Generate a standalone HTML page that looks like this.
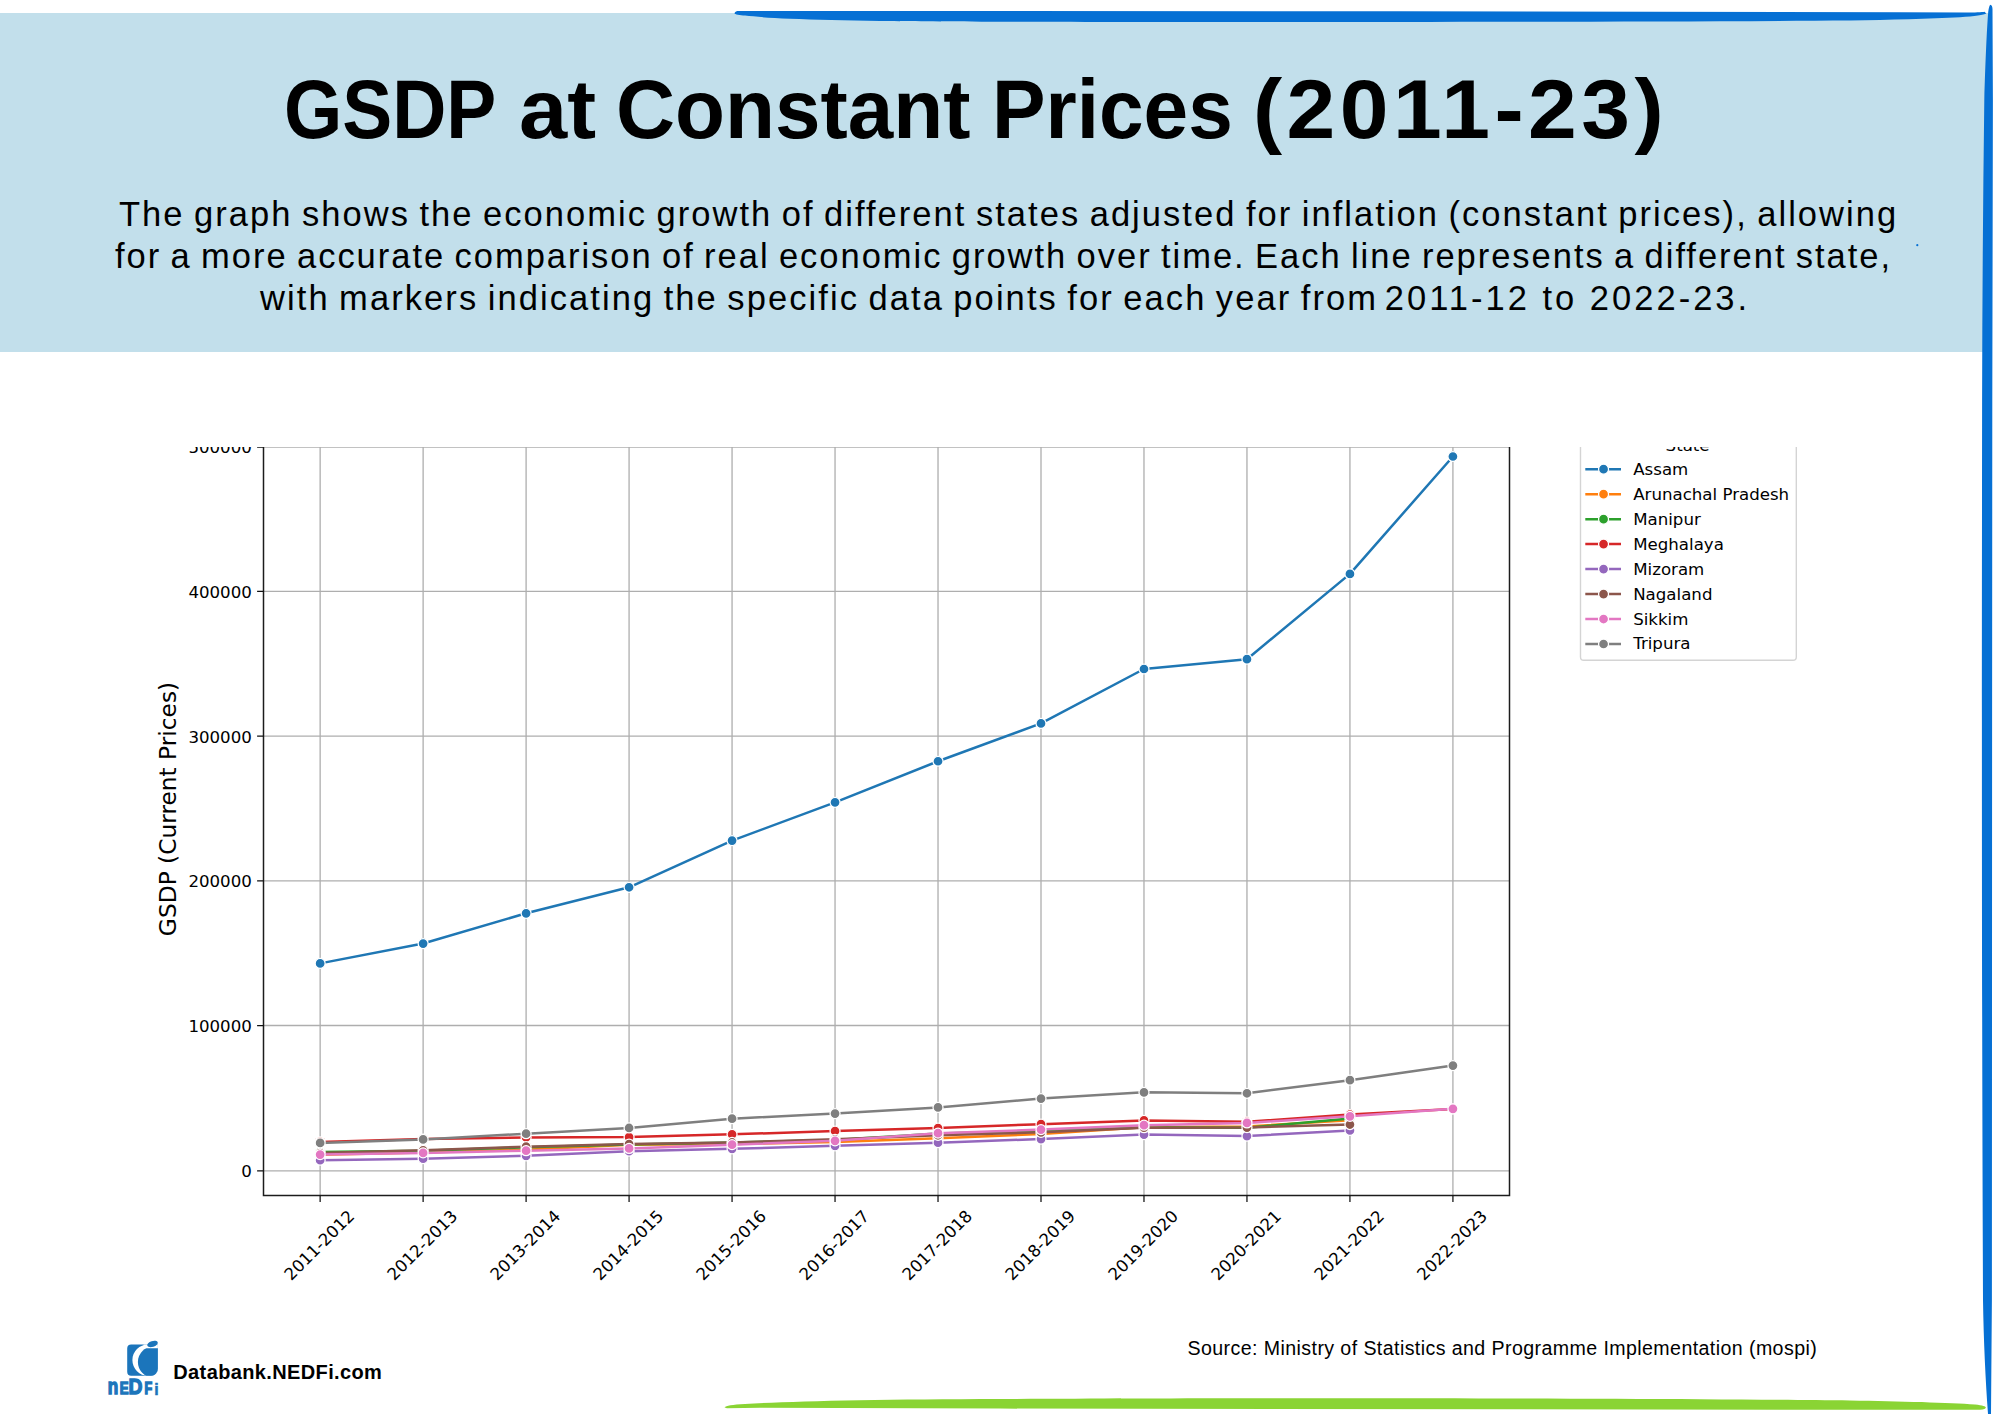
<!DOCTYPE html>
<html lang="en"><head><meta charset="utf-8"><title>GSDP at Constant Prices (2011-23)</title>
<style>
html,body{margin:0;padding:0;background:#fff}
body{width:2000px;height:1414px;position:relative;overflow:hidden;font-family:"Liberation Sans",sans-serif;color:#000}
.hdr{position:absolute;left:0;top:13px;width:1988px;height:338.6px;background:#c2dfeb}
.t{position:absolute;white-space:nowrap;line-height:1;margin:0}
.title{font-weight:bold;font-size:83.5px;left:0;top:67.81725px;width:2000px;height:83.5px}
.title span{position:absolute;top:0;transform-origin:0 50%;white-space:pre}
.d{font-size:34.5px;word-spacing:-2.2px}
.db{font-weight:bold;font-size:20px;letter-spacing:0.37px;left:173.3px;top:1362.1px}
.src{font-size:19.6px;letter-spacing:0.41px;left:1187.5px;top:1338.5px}
</style></head><body>
<div class="hdr"></div>
<svg width="2000" height="1414" viewBox="0 0 2000 1414" style="position:absolute;left:0;top:0">
<path fill="#0670d4" d="M734.5 13.2 C735 11.6 736.5 11 739 11 L1400 11.2 L1900 12.2 L1965 12.6 C1975 12.6 1982 12.2 1984.5 11.8 L1986.3 13.5 C1984 15 1975 16.2 1960 17.2 C1930 18.8 1890 19.8 1850 20.5 C1600 22.2 1200 22.2 1000 21.7 C950 21.6 900 21.2 880 21 C845 20.4 815 19.6 790 18.7 C770 17.8 755 16.8 745 15.6 C740 15 734.5 14.5 734.5 13.2 Z"/>
<path fill="#0670d4" d="M1990.5 4.8 C1991.6 5 1992.4 6.5 1992.5 9 L1992.9 100 L1992.3 400 L1992.1 720 L1991.9 1300 L1991 1414 L1988 1414 C1985.5 1380 1983.6 1340 1983 1300 C1982.2 1100 1981.9 900 1981.9 720 C1981.9 600 1982 500 1982.1 400 C1982.3 300 1983 200 1984.3 100 C1985.5 60 1986.8 30 1988.2 12 C1988.8 7.5 1989.6 5 1990.5 4.8 Z"/>
<path fill="#8ad434" d="M724.7 1407.4 C726 1405.6 732 1404.8 745 1404 C790 1401.2 880 1399.3 1000 1399 C1200 1398 1500 1398 1700 1399.2 C1760 1399.6 1810 1400 1850 1400.4 C1900 1401.2 1950 1402.6 1975 1404.4 C1983 1405.2 1986 1406.4 1985.9 1407.6 C1985.8 1408.8 1984 1409.6 1980 1409.8 L1850 1409.8 L1000 1408.6 L760 1407.8 L727 1408.2 C725.5 1408.2 724.4 1407.9 724.7 1407.4 Z"/>
<circle cx="1917.3" cy="245.2" r="1.1" fill="#0670d4"/>
</svg>
<h1 class="t title"><span style="left:284.00px;transform:scaleX(0.8971);letter-spacing:0.00px">GSDP </span><span style="left:518.65px;transform:scaleX(1.0382);letter-spacing:0.00px">at </span><span style="left:615.98px;transform:scaleX(0.9795);letter-spacing:0.00px">Constant </span><span style="left:991.89px;transform:scaleX(0.9606);letter-spacing:0.00px">Prices </span><span style="left:1252.62px;transform:scaleX(1.0500);letter-spacing:4.20px">(2011-23)</span></h1>
<p class="t d" style="left:119px;top:196.6px;letter-spacing:2.048px">The graph shows the economic growth of different states adjusted for inflation (constant prices), allowing</p>
<p class="t d" style="left:115px;top:239.3px;letter-spacing:1.980px">for a more accurate comparison of real economic growth over time. Each line represents a different state,</p>
<p class="t d" style="left:0;top:281.2px;width:2000px;height:34.5px"><span style="position:absolute;left:260.00px;letter-spacing:2.076px">with markers indicating the specific data points for each year from </span><span style="position:absolute;left:1384.78px;letter-spacing:3.009px;word-spacing:0">2011-12 to 2022-23.</span></p>
<svg class="chart" width="2000" height="1414" viewBox="0 0 2000 1414" style="position:absolute;left:0;top:0">
<defs><clipPath id="crop"><rect x="0" y="447.0" width="2000" height="967.0"/></clipPath><clipPath id="axclip"><rect x="263.5" y="447.0" width="1246.0" height="748.4000000000001"/></clipPath></defs>
<g clip-path="url(#crop)" font-family="'DejaVu Sans', 'Liberation Sans', sans-serif" fill="#000">
<path d="M320.14 442.0V1195.4M423.12 442.0V1195.4M526.10 442.0V1195.4M629.08 442.0V1195.4M732.06 442.0V1195.4M835.04 442.0V1195.4M938.02 442.0V1195.4M1041.00 442.0V1195.4M1143.98 442.0V1195.4M1246.96 442.0V1195.4M1349.94 442.0V1195.4M1452.92 442.0V1195.4M263.5 1170.88H1509.5M263.5 1025.50H1509.5M263.5 880.97H1509.5M263.5 736.20H1509.5M263.5 591.45H1509.5M263.5 447.00H1509.5" stroke="#aeaeae" stroke-width="1.3" fill="none"/>
<g clip-path="url(#axclip)">
<polyline points="320.14,963.39 423.12,943.56 526.10,913.32 629.08,887.28 732.06,840.60 835.04,802.33 938.02,761.24 1041.00,723.44 1143.98,668.99 1246.96,659.21 1349.94,573.91 1452.92,456.50" fill="none" stroke="#1f77b4" stroke-width="2.50" stroke-linejoin="round" stroke-linecap="butt"/>
<circle cx="320.14" cy="963.39" r="4.99" fill="#1f77b4" stroke="#fff" stroke-width="1.25"/>
<circle cx="423.12" cy="943.56" r="4.99" fill="#1f77b4" stroke="#fff" stroke-width="1.25"/>
<circle cx="526.10" cy="913.32" r="4.99" fill="#1f77b4" stroke="#fff" stroke-width="1.25"/>
<circle cx="629.08" cy="887.28" r="4.99" fill="#1f77b4" stroke="#fff" stroke-width="1.25"/>
<circle cx="732.06" cy="840.60" r="4.99" fill="#1f77b4" stroke="#fff" stroke-width="1.25"/>
<circle cx="835.04" cy="802.33" r="4.99" fill="#1f77b4" stroke="#fff" stroke-width="1.25"/>
<circle cx="938.02" cy="761.24" r="4.99" fill="#1f77b4" stroke="#fff" stroke-width="1.25"/>
<circle cx="1041.00" cy="723.44" r="4.99" fill="#1f77b4" stroke="#fff" stroke-width="1.25"/>
<circle cx="1143.98" cy="668.99" r="4.99" fill="#1f77b4" stroke="#fff" stroke-width="1.25"/>
<circle cx="1246.96" cy="659.21" r="4.99" fill="#1f77b4" stroke="#fff" stroke-width="1.25"/>
<circle cx="1349.94" cy="573.91" r="4.99" fill="#1f77b4" stroke="#fff" stroke-width="1.25"/>
<circle cx="1452.92" cy="456.50" r="4.99" fill="#1f77b4" stroke="#fff" stroke-width="1.25"/>
<polyline points="320.14,1154.73 423.12,1152.58 526.10,1149.63 629.08,1144.74 732.06,1143.94 835.04,1142.01 938.02,1138.20 1041.00,1134.06 1143.98,1127.27 1246.96,1126.54 1349.94,1120.20" fill="none" stroke="#ff7f0e" stroke-width="2.50" stroke-linejoin="round" stroke-linecap="butt"/>
<circle cx="320.14" cy="1154.73" r="4.99" fill="#ff7f0e" stroke="#fff" stroke-width="1.25"/>
<circle cx="423.12" cy="1152.58" r="4.99" fill="#ff7f0e" stroke="#fff" stroke-width="1.25"/>
<circle cx="526.10" cy="1149.63" r="4.99" fill="#ff7f0e" stroke="#fff" stroke-width="1.25"/>
<circle cx="629.08" cy="1144.74" r="4.99" fill="#ff7f0e" stroke="#fff" stroke-width="1.25"/>
<circle cx="732.06" cy="1143.94" r="4.99" fill="#ff7f0e" stroke="#fff" stroke-width="1.25"/>
<circle cx="835.04" cy="1142.01" r="4.99" fill="#ff7f0e" stroke="#fff" stroke-width="1.25"/>
<circle cx="938.02" cy="1138.20" r="4.99" fill="#ff7f0e" stroke="#fff" stroke-width="1.25"/>
<circle cx="1041.00" cy="1134.06" r="4.99" fill="#ff7f0e" stroke="#fff" stroke-width="1.25"/>
<circle cx="1143.98" cy="1127.27" r="4.99" fill="#ff7f0e" stroke="#fff" stroke-width="1.25"/>
<circle cx="1246.96" cy="1126.54" r="4.99" fill="#ff7f0e" stroke="#fff" stroke-width="1.25"/>
<circle cx="1349.94" cy="1120.20" r="4.99" fill="#ff7f0e" stroke="#fff" stroke-width="1.25"/>
<polyline points="320.14,1152.05 423.12,1150.85 526.10,1147.31 629.08,1144.49 732.06,1142.46 835.04,1139.91 938.02,1133.40 1041.00,1131.08 1143.98,1127.46 1246.96,1127.85 1349.94,1118.61" fill="none" stroke="#2ca02c" stroke-width="2.50" stroke-linejoin="round" stroke-linecap="butt"/>
<circle cx="320.14" cy="1152.05" r="4.99" fill="#2ca02c" stroke="#fff" stroke-width="1.25"/>
<circle cx="423.12" cy="1150.85" r="4.99" fill="#2ca02c" stroke="#fff" stroke-width="1.25"/>
<circle cx="526.10" cy="1147.31" r="4.99" fill="#2ca02c" stroke="#fff" stroke-width="1.25"/>
<circle cx="629.08" cy="1144.49" r="4.99" fill="#2ca02c" stroke="#fff" stroke-width="1.25"/>
<circle cx="732.06" cy="1142.46" r="4.99" fill="#2ca02c" stroke="#fff" stroke-width="1.25"/>
<circle cx="835.04" cy="1139.91" r="4.99" fill="#2ca02c" stroke="#fff" stroke-width="1.25"/>
<circle cx="938.02" cy="1133.40" r="4.99" fill="#2ca02c" stroke="#fff" stroke-width="1.25"/>
<circle cx="1041.00" cy="1131.08" r="4.99" fill="#2ca02c" stroke="#fff" stroke-width="1.25"/>
<circle cx="1143.98" cy="1127.46" r="4.99" fill="#2ca02c" stroke="#fff" stroke-width="1.25"/>
<circle cx="1246.96" cy="1127.85" r="4.99" fill="#2ca02c" stroke="#fff" stroke-width="1.25"/>
<circle cx="1349.94" cy="1118.61" r="4.99" fill="#2ca02c" stroke="#fff" stroke-width="1.25"/>
<polyline points="320.14,1141.90 423.12,1139.07 526.10,1137.53 629.08,1137.10 732.06,1134.37 835.04,1131.01 938.02,1128.01 1041.00,1124.15 1143.98,1120.39 1246.96,1121.83 1349.94,1114.58 1452.92,1108.91" fill="none" stroke="#d62728" stroke-width="2.50" stroke-linejoin="round" stroke-linecap="butt"/>
<circle cx="320.14" cy="1141.90" r="4.99" fill="#d62728" stroke="#fff" stroke-width="1.25"/>
<circle cx="423.12" cy="1139.07" r="4.99" fill="#d62728" stroke="#fff" stroke-width="1.25"/>
<circle cx="526.10" cy="1137.53" r="4.99" fill="#d62728" stroke="#fff" stroke-width="1.25"/>
<circle cx="629.08" cy="1137.10" r="4.99" fill="#d62728" stroke="#fff" stroke-width="1.25"/>
<circle cx="732.06" cy="1134.37" r="4.99" fill="#d62728" stroke="#fff" stroke-width="1.25"/>
<circle cx="835.04" cy="1131.01" r="4.99" fill="#d62728" stroke="#fff" stroke-width="1.25"/>
<circle cx="938.02" cy="1128.01" r="4.99" fill="#d62728" stroke="#fff" stroke-width="1.25"/>
<circle cx="1041.00" cy="1124.15" r="4.99" fill="#d62728" stroke="#fff" stroke-width="1.25"/>
<circle cx="1143.98" cy="1120.39" r="4.99" fill="#d62728" stroke="#fff" stroke-width="1.25"/>
<circle cx="1246.96" cy="1121.83" r="4.99" fill="#d62728" stroke="#fff" stroke-width="1.25"/>
<circle cx="1349.94" cy="1114.58" r="4.99" fill="#d62728" stroke="#fff" stroke-width="1.25"/>
<circle cx="1452.92" cy="1108.91" r="4.99" fill="#d62728" stroke="#fff" stroke-width="1.25"/>
<polyline points="320.14,1160.24 423.12,1158.64 526.10,1155.84 629.08,1151.18 732.06,1148.82 835.04,1145.85 938.02,1142.67 1041.00,1139.06 1143.98,1134.57 1246.96,1136.09 1349.94,1130.45" fill="none" stroke="#9467bd" stroke-width="2.50" stroke-linejoin="round" stroke-linecap="butt"/>
<circle cx="320.14" cy="1160.24" r="4.99" fill="#9467bd" stroke="#fff" stroke-width="1.25"/>
<circle cx="423.12" cy="1158.64" r="4.99" fill="#9467bd" stroke="#fff" stroke-width="1.25"/>
<circle cx="526.10" cy="1155.84" r="4.99" fill="#9467bd" stroke="#fff" stroke-width="1.25"/>
<circle cx="629.08" cy="1151.18" r="4.99" fill="#9467bd" stroke="#fff" stroke-width="1.25"/>
<circle cx="732.06" cy="1148.82" r="4.99" fill="#9467bd" stroke="#fff" stroke-width="1.25"/>
<circle cx="835.04" cy="1145.85" r="4.99" fill="#9467bd" stroke="#fff" stroke-width="1.25"/>
<circle cx="938.02" cy="1142.67" r="4.99" fill="#9467bd" stroke="#fff" stroke-width="1.25"/>
<circle cx="1041.00" cy="1139.06" r="4.99" fill="#9467bd" stroke="#fff" stroke-width="1.25"/>
<circle cx="1143.98" cy="1134.57" r="4.99" fill="#9467bd" stroke="#fff" stroke-width="1.25"/>
<circle cx="1246.96" cy="1136.09" r="4.99" fill="#9467bd" stroke="#fff" stroke-width="1.25"/>
<circle cx="1349.94" cy="1130.45" r="4.99" fill="#9467bd" stroke="#fff" stroke-width="1.25"/>
<polyline points="320.14,1153.11 423.12,1150.30 526.10,1146.69 629.08,1144.10 732.06,1142.47 835.04,1139.29 938.02,1135.28 1041.00,1132.33 1143.98,1127.71 1246.96,1127.54 1349.94,1124.53" fill="none" stroke="#8c564b" stroke-width="2.50" stroke-linejoin="round" stroke-linecap="butt"/>
<circle cx="320.14" cy="1153.11" r="4.99" fill="#8c564b" stroke="#fff" stroke-width="1.25"/>
<circle cx="423.12" cy="1150.30" r="4.99" fill="#8c564b" stroke="#fff" stroke-width="1.25"/>
<circle cx="526.10" cy="1146.69" r="4.99" fill="#8c564b" stroke="#fff" stroke-width="1.25"/>
<circle cx="629.08" cy="1144.10" r="4.99" fill="#8c564b" stroke="#fff" stroke-width="1.25"/>
<circle cx="732.06" cy="1142.47" r="4.99" fill="#8c564b" stroke="#fff" stroke-width="1.25"/>
<circle cx="835.04" cy="1139.29" r="4.99" fill="#8c564b" stroke="#fff" stroke-width="1.25"/>
<circle cx="938.02" cy="1135.28" r="4.99" fill="#8c564b" stroke="#fff" stroke-width="1.25"/>
<circle cx="1041.00" cy="1132.33" r="4.99" fill="#8c564b" stroke="#fff" stroke-width="1.25"/>
<circle cx="1143.98" cy="1127.71" r="4.99" fill="#8c564b" stroke="#fff" stroke-width="1.25"/>
<circle cx="1246.96" cy="1127.54" r="4.99" fill="#8c564b" stroke="#fff" stroke-width="1.25"/>
<circle cx="1349.94" cy="1124.53" r="4.99" fill="#8c564b" stroke="#fff" stroke-width="1.25"/>
<polyline points="320.14,1154.58 423.12,1152.88 526.10,1150.67 629.08,1148.44 732.06,1144.63 835.04,1140.79 938.02,1133.14 1041.00,1129.62 1143.98,1125.21 1246.96,1122.93 1349.94,1116.36 1452.92,1108.83" fill="none" stroke="#e377c2" stroke-width="2.50" stroke-linejoin="round" stroke-linecap="butt"/>
<circle cx="320.14" cy="1154.58" r="4.99" fill="#e377c2" stroke="#fff" stroke-width="1.25"/>
<circle cx="423.12" cy="1152.88" r="4.99" fill="#e377c2" stroke="#fff" stroke-width="1.25"/>
<circle cx="526.10" cy="1150.67" r="4.99" fill="#e377c2" stroke="#fff" stroke-width="1.25"/>
<circle cx="629.08" cy="1148.44" r="4.99" fill="#e377c2" stroke="#fff" stroke-width="1.25"/>
<circle cx="732.06" cy="1144.63" r="4.99" fill="#e377c2" stroke="#fff" stroke-width="1.25"/>
<circle cx="835.04" cy="1140.79" r="4.99" fill="#e377c2" stroke="#fff" stroke-width="1.25"/>
<circle cx="938.02" cy="1133.14" r="4.99" fill="#e377c2" stroke="#fff" stroke-width="1.25"/>
<circle cx="1041.00" cy="1129.62" r="4.99" fill="#e377c2" stroke="#fff" stroke-width="1.25"/>
<circle cx="1143.98" cy="1125.21" r="4.99" fill="#e377c2" stroke="#fff" stroke-width="1.25"/>
<circle cx="1246.96" cy="1122.93" r="4.99" fill="#e377c2" stroke="#fff" stroke-width="1.25"/>
<circle cx="1349.94" cy="1116.36" r="4.99" fill="#e377c2" stroke="#fff" stroke-width="1.25"/>
<circle cx="1452.92" cy="1108.83" r="4.99" fill="#e377c2" stroke="#fff" stroke-width="1.25"/>
<polyline points="320.14,1142.93 423.12,1139.38 526.10,1133.68 629.08,1127.98 732.06,1118.70 835.04,1113.57 938.02,1107.44 1041.00,1098.59 1143.98,1092.32 1246.96,1093.26 1349.94,1080.16 1452.92,1065.55" fill="none" stroke="#7f7f7f" stroke-width="2.50" stroke-linejoin="round" stroke-linecap="butt"/>
<circle cx="320.14" cy="1142.93" r="4.99" fill="#7f7f7f" stroke="#fff" stroke-width="1.25"/>
<circle cx="423.12" cy="1139.38" r="4.99" fill="#7f7f7f" stroke="#fff" stroke-width="1.25"/>
<circle cx="526.10" cy="1133.68" r="4.99" fill="#7f7f7f" stroke="#fff" stroke-width="1.25"/>
<circle cx="629.08" cy="1127.98" r="4.99" fill="#7f7f7f" stroke="#fff" stroke-width="1.25"/>
<circle cx="732.06" cy="1118.70" r="4.99" fill="#7f7f7f" stroke="#fff" stroke-width="1.25"/>
<circle cx="835.04" cy="1113.57" r="4.99" fill="#7f7f7f" stroke="#fff" stroke-width="1.25"/>
<circle cx="938.02" cy="1107.44" r="4.99" fill="#7f7f7f" stroke="#fff" stroke-width="1.25"/>
<circle cx="1041.00" cy="1098.59" r="4.99" fill="#7f7f7f" stroke="#fff" stroke-width="1.25"/>
<circle cx="1143.98" cy="1092.32" r="4.99" fill="#7f7f7f" stroke="#fff" stroke-width="1.25"/>
<circle cx="1246.96" cy="1093.26" r="4.99" fill="#7f7f7f" stroke="#fff" stroke-width="1.25"/>
<circle cx="1349.94" cy="1080.16" r="4.99" fill="#7f7f7f" stroke="#fff" stroke-width="1.25"/>
<circle cx="1452.92" cy="1065.55" r="4.99" fill="#7f7f7f" stroke="#fff" stroke-width="1.25"/>
</g>
<path d="M263.5 442.0V1195.4H1509.5V442.0" stroke="#1c1c1c" stroke-width="1.5" fill="none" stroke-linejoin="miter"/>
<path d="M320.14 1195.4v6.5M423.12 1195.4v6.5M526.10 1195.4v6.5M629.08 1195.4v6.5M732.06 1195.4v6.5M835.04 1195.4v6.5M938.02 1195.4v6.5M1041.00 1195.4v6.5M1143.98 1195.4v6.5M1246.96 1195.4v6.5M1349.94 1195.4v6.5M1452.92 1195.4v6.5M263.5 1170.88h-6.4M263.5 1025.50h-6.4M263.5 880.97h-6.4M263.5 736.20h-6.4M263.5 591.45h-6.4M263.5 447.00h-6.4" stroke="#111" stroke-width="1.25" fill="none"/>
<text x="251.85" y="1177.20" font-size="16.64" text-anchor="end">0</text>
<text x="251.85" y="1031.82" font-size="16.64" text-anchor="end">100000</text>
<text x="251.85" y="887.29" font-size="16.64" text-anchor="end">200000</text>
<text x="251.85" y="742.52" font-size="16.64" text-anchor="end">300000</text>
<text x="251.85" y="597.77" font-size="16.64" text-anchor="end">400000</text>
<text x="251.85" y="453.32" font-size="16.64" text-anchor="end">500000</text>
<text transform="translate(319.14,1244.94) rotate(-45)" x="0" y="5.99" font-size="16.64" text-anchor="middle">2011-2012</text>
<text transform="translate(422.12,1244.94) rotate(-45)" x="0" y="5.99" font-size="16.64" text-anchor="middle">2012-2013</text>
<text transform="translate(525.10,1244.94) rotate(-45)" x="0" y="5.99" font-size="16.64" text-anchor="middle">2013-2014</text>
<text transform="translate(628.08,1244.94) rotate(-45)" x="0" y="5.99" font-size="16.64" text-anchor="middle">2014-2015</text>
<text transform="translate(731.06,1244.94) rotate(-45)" x="0" y="5.99" font-size="16.64" text-anchor="middle">2015-2016</text>
<text transform="translate(834.04,1244.94) rotate(-45)" x="0" y="5.99" font-size="16.64" text-anchor="middle">2016-2017</text>
<text transform="translate(937.02,1244.94) rotate(-45)" x="0" y="5.99" font-size="16.64" text-anchor="middle">2017-2018</text>
<text transform="translate(1040.00,1244.94) rotate(-45)" x="0" y="5.99" font-size="16.64" text-anchor="middle">2018-2019</text>
<text transform="translate(1142.98,1244.94) rotate(-45)" x="0" y="5.99" font-size="16.64" text-anchor="middle">2019-2020</text>
<text transform="translate(1245.96,1244.94) rotate(-45)" x="0" y="5.99" font-size="16.64" text-anchor="middle">2020-2021</text>
<text transform="translate(1348.94,1244.94) rotate(-45)" x="0" y="5.99" font-size="16.64" text-anchor="middle">2021-2022</text>
<text transform="translate(1451.92,1244.94) rotate(-45)" x="0" y="5.99" font-size="16.64" text-anchor="middle">2022-2023</text>
<text transform="translate(176.1,809.0) rotate(-90)" x="0" y="0" font-size="23.3" text-anchor="middle">GSDP (Current Prices)</text>
<rect x="1580.5" y="430.0" width="215.79999999999995" height="230.20000000000005" rx="3.3" ry="3.3" fill="#fff" fill-opacity="0.8" stroke="#d4d4d4" stroke-width="1.4"/>
<text x="1687.6" y="450.5" font-size="16.64" text-anchor="middle">State</text>
<path d="M1585.3 469.20H1621" stroke="#1f77b4" stroke-width="2.50"/>
<circle cx="1603.55" cy="469.20" r="4.99" fill="#1f77b4" stroke="#fff" stroke-width="1.25"/>
<text x="1633.2" y="474.69" font-size="16.64">Assam</text>
<path d="M1585.3 494.17H1621" stroke="#ff7f0e" stroke-width="2.50"/>
<circle cx="1603.55" cy="494.17" r="4.99" fill="#ff7f0e" stroke="#fff" stroke-width="1.25"/>
<text x="1633.2" y="499.66" font-size="16.64">Arunachal Pradesh</text>
<path d="M1585.3 519.14H1621" stroke="#2ca02c" stroke-width="2.50"/>
<circle cx="1603.55" cy="519.14" r="4.99" fill="#2ca02c" stroke="#fff" stroke-width="1.25"/>
<text x="1633.2" y="524.63" font-size="16.64">Manipur</text>
<path d="M1585.3 544.11H1621" stroke="#d62728" stroke-width="2.50"/>
<circle cx="1603.55" cy="544.11" r="4.99" fill="#d62728" stroke="#fff" stroke-width="1.25"/>
<text x="1633.2" y="549.60" font-size="16.64">Meghalaya</text>
<path d="M1585.3 569.08H1621" stroke="#9467bd" stroke-width="2.50"/>
<circle cx="1603.55" cy="569.08" r="4.99" fill="#9467bd" stroke="#fff" stroke-width="1.25"/>
<text x="1633.2" y="574.57" font-size="16.64">Mizoram</text>
<path d="M1585.3 594.05H1621" stroke="#8c564b" stroke-width="2.50"/>
<circle cx="1603.55" cy="594.05" r="4.99" fill="#8c564b" stroke="#fff" stroke-width="1.25"/>
<text x="1633.2" y="599.54" font-size="16.64">Nagaland</text>
<path d="M1585.3 619.02H1621" stroke="#e377c2" stroke-width="2.50"/>
<circle cx="1603.55" cy="619.02" r="4.99" fill="#e377c2" stroke="#fff" stroke-width="1.25"/>
<text x="1633.2" y="624.51" font-size="16.64">Sikkim</text>
<path d="M1585.3 643.99H1621" stroke="#7f7f7f" stroke-width="2.50"/>
<circle cx="1603.55" cy="643.99" r="4.99" fill="#7f7f7f" stroke="#fff" stroke-width="1.25"/>
<text x="1633.2" y="649.48" font-size="16.64">Tripura</text>
</g></svg>
<svg width="80" height="80" viewBox="100 1332 80 80" style="position:absolute;left:100px;top:1332px">
<defs><clipPath id="lg"><path d="M131.2 1344.6 H157.9 V1368.8 A7 7 0 0 1 150.9 1375.8 H131.2 A4 4 0 0 1 127.2 1371.8 V1348.6 A4 4 0 0 1 131.2 1344.6 Z"/></clipPath>
<clipPath id="lg2"><rect x="120" y="1348.3" width="40" height="30"/></clipPath></defs>
<g clip-path="url(#lg)">
<rect x="120" y="1340" width="45" height="40" fill="#1b75bb"/>
<circle cx="148" cy="1360.1" r="15.6" fill="#fff"/>
<rect x="143.6" y="1340" width="20" height="8.3" fill="#fff"/>
<g clip-path="url(#lg2)"><circle cx="153.5" cy="1362" r="15.6" fill="#1b75bb"/></g>
</g>
<ellipse cx="152.5" cy="1343.9" rx="5.5" ry="2.9" transform="rotate(-18 152.5 1343.9)" fill="#1b75bb"/>
<g font-family="'Liberation Sans', sans-serif" font-weight="bold" fill="#1b75bb"><text transform="translate(107.74,1394.25) scale(0.793,1)" font-size="21.58" stroke="#1b75bb" stroke-width="1.3" stroke-linejoin="miter" vector-effect="non-scaling-stroke">n</text><text transform="translate(119.76,1394.25) scale(0.783,1)" font-size="16.87" stroke="#1b75bb" stroke-width="1.3" stroke-linejoin="miter" vector-effect="non-scaling-stroke">E</text><text transform="translate(128.55,1394.25) scale(0.866,1)" font-size="22.25" stroke="#1b75bb" stroke-width="1.3" stroke-linejoin="miter" vector-effect="non-scaling-stroke">D</text><text transform="translate(144.60,1394.25) scale(0.747,1)" font-size="16.87" stroke="#1b75bb" stroke-width="1.3" stroke-linejoin="miter" vector-effect="non-scaling-stroke">F</text><text transform="translate(154.33,1394.65) scale(0.935,1)" font-size="17.10" stroke="#1b75bb" stroke-width="0.5" stroke-linejoin="miter" vector-effect="non-scaling-stroke">i</text></g>
</svg>
<div class="t db">Databank.NEDFi.com</div>
<div class="t src">Source: Ministry of Statistics and Programme Implementation (mospi)</div>
</body></html>
